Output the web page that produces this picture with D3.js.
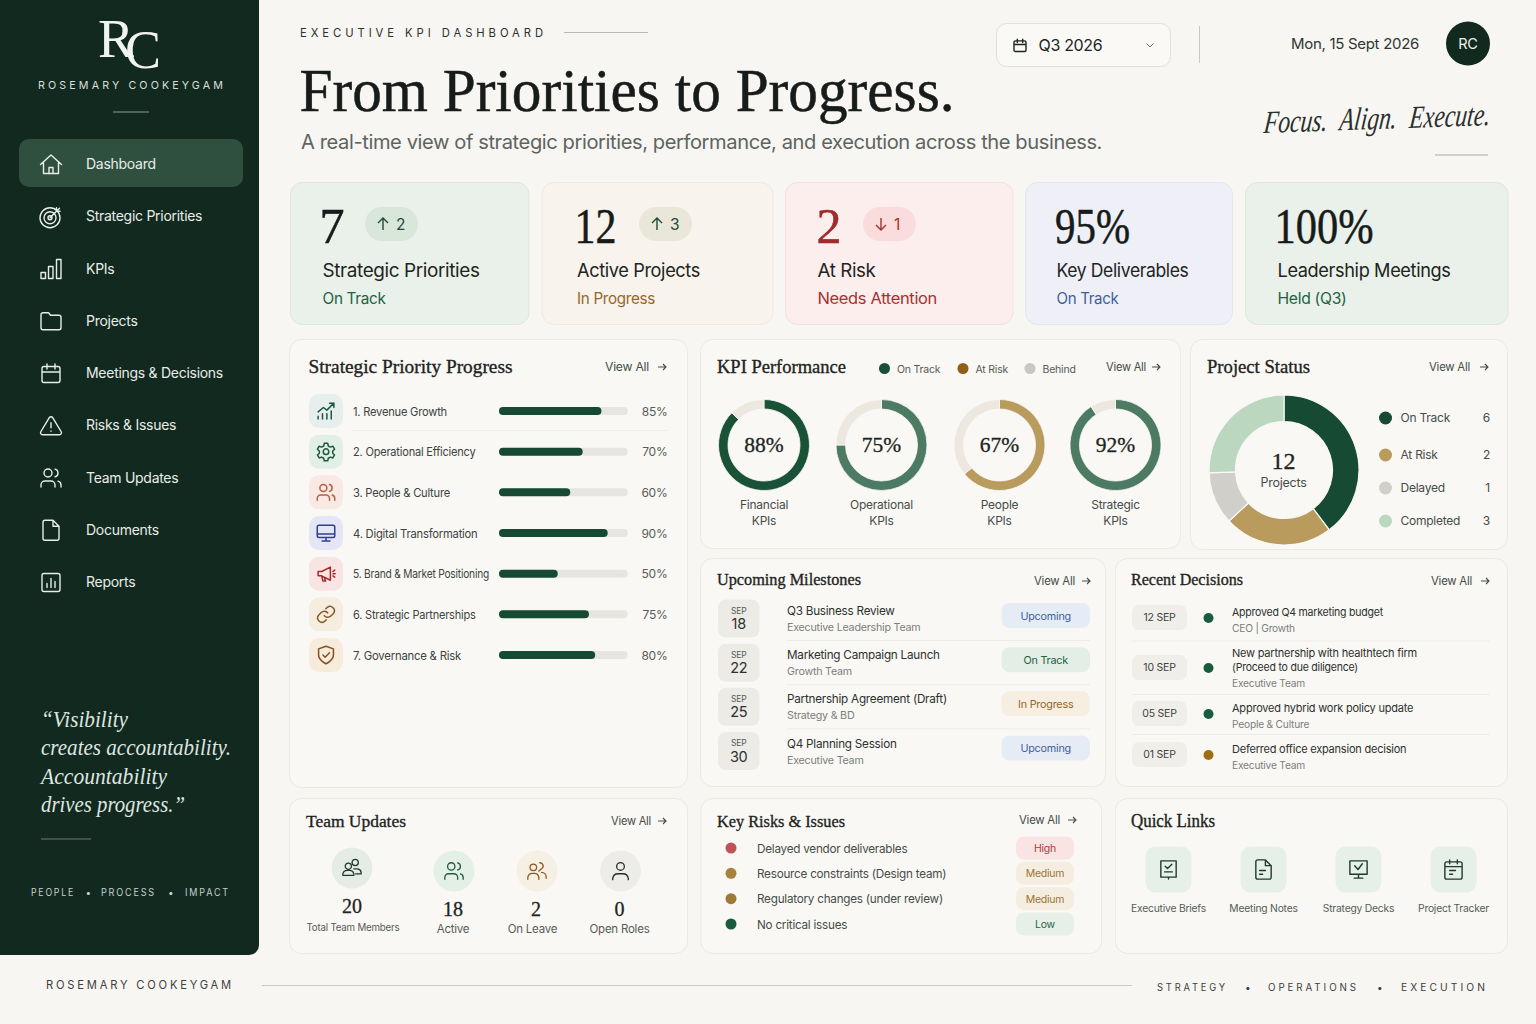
<!DOCTYPE html>
<html>
<head>
<meta charset="utf-8">
<title>Executive KPI Dashboard</title>
<script src="https://cdn.jsdelivr.net/npm/d3@7"></script>
<style>
html, body { margin: 0; padding: 0; background: #f8f6f2; }
svg { display: block; }
</style>
</head>
<body>
<div id="chart"></div>
<script>
// DATA
var navItems = ["Dashboard", "Strategic Priorities", "KPIs", "Projects", "Meetings & Decisions", "Risks & Issues", "Team Updates", "Documents", "Reports"];
var navIcons = ["home", "target", "bars", "folder", "calendar", "alert", "users", "file", "report"];
var quoteLines = ["\u201CVisibility", "creates accountability.", "Accountability", "drives progress.\u201D"];

var kpiValues = ["7", "12", "2", "95%", "100%"];
var kpiTitles = ["Strategic Priorities", "Active Projects", "At Risk", "Key Deliverables", "Leadership Meetings"];
var kpiStates = ["On Track", "In Progress", "Needs Attention", "On Track", "Held (Q3)"];
var kpiDeltas = [2, 3, -1, null, null];

var priorityNames = ["1. Revenue Growth", "2. Operational Efficiency", "3. People & Culture", "4. Digital Transformation", "5. Brand & Market Positioning", "6. Strategic Partnerships", "7. Governance & Risk"];
var priorityValues = [85, 70, 60, 90, 50, 75, 80];
var priorityIcons = ["growth", "gear", "users", "monitor", "megaphone", "link", "shield"];

var ringLabels = [88, 75, 67, 92];
var ringArcs = [87.5, 75, 64, 91]; // how much of each ring is actually painted
var ringNames = ["Financial", "Operational", "People", "Strategic"];
var kpiLegend = ["On Track", "At Risk", "Behind"];

var projectNames = ["On Track", "At Risk", "Delayed", "Completed"];
var projectCounts = [6, 2, 1, 3];
var projectShares = [39.7, 23.4, 11.3, 25.6]; // slice sizes as drawn, not the counts

var milestoneDays = ["18", "22", "25", "30"];
var milestoneTitles = ["Q3 Business Review", "Marketing Campaign Launch", "Partnership Agreement (Draft)", "Q4 Planning Session"];
var milestoneOwners = ["Executive Leadership Team", "Growth Team", "Strategy & BD", "Executive Team"];
var milestoneStates = ["Upcoming", "On Track", "In Progress", "Upcoming"];

var decisionDates = ["12 SEP", "10 SEP", "05 SEP", "01 SEP"];
var decisionTitles = [["Approved Q4 marketing budget"], ["New partnership with healthtech firm", "(Proceed to due diligence)"], ["Approved hybrid work policy update"], ["Deferred office expansion decision"]];
var decisionOwners = ["CEO | Growth", "Executive Team", "People & Culture", "Executive Team"];
var decisionStates = ["done", "done", "done", "deferred"];

var teamValues = [20, 18, 2, 0];
var teamNames = ["Total Team Members", "Active", "On Leave", "Open Roles"];

var riskNames = ["Delayed vendor deliverables", "Resource constraints (Design team)", "Regulatory changes (under review)", "No critical issues"];
var riskLevels = ["High", "Medium", "Medium", "Low"];

var quickNames = ["Executive Briefs", "Meeting Notes", "Strategy Decks", "Project Tracker"];
var quickIcons = ["brief", "note", "deck", "calendar2"];

// FONTS AND COLOURS
var SANS = "Inter, 'Noto Sans', sans-serif";
var SERIF = "'Liberation Serif', serif";
var INK = "#1d2421", BODY = "#3c4340", MUTED = "#7a807c", DARK = "#12291f", GREEN = "#164a33";

function ci(x, y, r) {
    return "M" + (x - r) + " " + y + "a" + r + " " + r + " 0 1 0 " + (2 * r) + " 0a" + r + " " + r + " 0 1 0 " + (-2 * r) + " 0";
}

// outline icons on a 24 x 24 grid
var icons = {
    home: "M1.5 12 L12 2.5 L22.5 12 M4.5 9.500 V21 H19.500 V9.500 M10 21 V15 H14 V21",
    target: ci(11, 13, 10) + ci(11, 13, 6) + ci(11, 13, 2) + "M11 13 L20.500 3.500 M17.500 3 V6.500 H21",
    bars: "M2 15.500h4.500v6H2z M9.500 9.500h4.500V21.500H9.500z M17.500 2.500h4.500v19h-4.500z",
    folder: "M4 20.5h16a2 2 0 0 0 2-2V8a2 2 0 0 0-2-2h-8.5l-2-2.5H4a2 2 0 0 0-2 2V18.5a2 2 0 0 0 2 2z",
    calendar: "M5 5h14a2 2 0 0 1 2 2v12a2 2 0 0 1-2 2H5a2 2 0 0 1-2-2V7a2 2 0 0 1 2-2z M16 2.5v5 M8 2.5v5 M3 10.5h18",
    alert: "M10.3 3.9 1.8 18a2 2 0 0 0 1.7 3h17a2 2 0 0 0 1.7-3L13.7 3.9a2 2 0 0 0-3.4 0z M12 9v5 M12 17.2v.4",
    users: "M16 21v-2a4 4 0 0 0-4-4H6a4 4 0 0 0-4 4v2" + ci(9, 7, 4) + "M22 21v-2a4 4 0 0 0-3-3.87 M16 3.13a4 4 0 0 1 0 7.75",
    file: "M14 2H6a2 2 0 0 0-2 2v16a2 2 0 0 0 2 2h12a2 2 0 0 0 2-2V8z M14 2v6h6",
    report: "M5 3h14a2 2 0 0 1 2 2v14a2 2 0 0 1-2 2H5a2 2 0 0 1-2-2V5a2 2 0 0 1 2-2z M8 17v-4 M12 17V8 M16 17v-6",
    growth: "M3 21v-3 M8 21v-6 M13 21v-6 M18 21v-9 M3 13l6-5 4 3 8-8 M16 3h5v5",
    gear: ci(12, 12, 3.2) + "M10 2.5h4l.6 3 2.4 1.3 2.8-1 2 3.4-2.2 2 .0 2.6 2.2 2-2 3.4-2.8-1-2.4 1.3-.6 3h-4l-.6-3-2.4-1.3-2.8 1-2-3.4 2.2-2v-2.6l-2.2-2 2-3.4 2.8 1 2.4-1.3z",
    monitor: "M4 3h16a2 2 0 0 1 2 2v10a2 2 0 0 1-2 2H4a2 2 0 0 1-2-2V5a2 2 0 0 1 2-2z M2 13h20 M12 17v4 M7.5 21h9",
    megaphone: "M3 9.5v5h4l10 5V4.5L7 9.5z M7 14.5l1.5 6h3L10 16 M20 9.5l2-1.5 M20 12h2.5 M20 14.5l2 1.5",
    link: "M10 13.5a5 5 0 0 0 7.5.5l3-3a5 5 0 0 0-7-7l-1.7 1.7 M14 10.5a5 5 0 0 0-7.5-.5l-3 3a5 5 0 0 0 7 7l1.7-1.7",
    shield: "M12 22s8.500-3.500 8.500-10.500V5L12 2 3.500 5v6.500C3.500 18.500 12 22 12 22z M8.500 12l2.500 2.500 5-5",
    people2: ci(8, 10, 3.4) + "M2 20v-1.500a5 5 0 0 1 5-4h2a5 5 0 0 1 5 4V20z" + ci(15.500, 6, 3.4) + "M14 13h4a4.500 4.500 0 0 1 4 4v1.500h-6",
    leave: ci(8, 8, 3.6) + "M2 21v-2a5 5 0 0 1 5-4.500h2a5 5 0 0 1 5 4.500v2 M15 3a3.500 3.500 0 0 1 2 6.500l-3 2.500 M17 13.500a5 5 0 0 1 5 5V20",
    person: ci(12, 7, 4.200) + "M3.500 21.500v-1.500a6 6 0 0 1 6-5h5a6 6 0 0 1 6 5v1.500",
    brief: "M4 3h16v17H4z M12 20v2 M8.500 8.500l2.500 2.500 4.500-4.500 M8 14.500h8",
    note: "M14 2H6a2 2 0 0 0-2 2v16a2 2 0 0 0 2 2h12a2 2 0 0 0 2-2V8z M14 2v6h6 M8 13h6 M8 17h3",
    deck: "M3 3h18v14H3z M12 17v4 M7.500 21h9 M8 8l3.500 4 4.500-6",
    calendar2: "M5 4h14a2 2 0 0 1 2 2v14a2 2 0 0 1-2 2H5a2 2 0 0 1-2-2V6a2 2 0 0 1 2-2z M8 2v4 M16 2v4 M3 9h18 M8 13h6 M8 17h3"
};

var svg = d3.select("#chart").append("svg")
    .attr("width", 1536)
    .attr("height", 1024)
    .attr("viewBox", "0 0 1536 1024");

svg.append("rect").attr("width", 1536).attr("height", 1024).attr("fill", "#f8f6f2");

// little helpers for the repeating bits
function txt(parent, x, y, str, size, fill, opts) {
    opts = opts || {};
    var font = opts.font || SANS;
    var t = parent.append("text")
        .attr("x", x)
        .attr("y", y)
        .attr("font-family", font)
        .attr("font-size", size)
        .attr("fill", fill)
        .attr("text-anchor", opts.anchor || "start")
        .text(str);
    // Inter runs wider than the picture's face, tighten it a bit
    if (opts.spacing !== undefined) t.attr("letter-spacing", opts.spacing);
    else if (font === SANS) t.attr("letter-spacing", "-0.02em");
    if (opts.italic) t.attr("font-style", "italic");
    if (opts.bold) t.attr("stroke", fill).attr("stroke-width", opts.bold);
    if (opts.width) t.attr("textLength", opts.width).attr("lengthAdjust", "spacingAndGlyphs");
    return t;
}

function box(parent, x0, y0, x1, y1, r, fill, stroke) {
    return parent.append("rect")
        .attr("x", x0).attr("y", y0)
        .attr("width", x1 - x0).attr("height", y1 - y0)
        .attr("rx", r)
        .attr("fill", fill)
        .attr("stroke", stroke || "none");
}

function icon(parent, name, cx, cy, size, color, sw) {
    var k = size / 24;
    parent.append("path")
        .attr("d", icons[name])
        .attr("transform", "translate(" + (cx - size / 2) + "," + (cy - size / 2) + ") scale(" + k + ")")
        .attr("fill", "none")
        .attr("stroke", color)
        .attr("stroke-width", (sw || 1.5) / k)
        .attr("stroke-linecap", "round")
        .attr("stroke-linejoin", "round");
}

function line(parent, x0, y0, x1, y1, color, w) {
    parent.append("line")
        .attr("x1", x0).attr("y1", y0)
        .attr("x2", x1).attr("y2", y1)
        .attr("stroke", color)
        .attr("stroke-width", w || 1);
}

function arrow(parent, x0, x1, y, color) {
    parent.append("path")
        .attr("d", "M" + x0 + " " + y + "H" + x1 + "M" + (x1 - 3) + " " + (y - 3) + "L" + x1 + " " + y + "L" + (x1 - 3) + " " + (y + 3))
        .attr("fill", "none")
        .attr("stroke", color)
        .attr("stroke-width", 1.1);
}

function panel(x0, y0, x1, y1, title, titleX, titleY, titleW, size, linkX, linkY, arrowGap, linkW) {
    var g = svg.append("g");
    box(g, x0 + 0.5, y0 + 0.5, x1 - 0.5, y1 - 0.5, 12, "#faf8f5", "#ece9e3");
    txt(g, titleX, titleY, title, size, INK, { font: SERIF, bold: 0.35, width: titleW });
    if (linkX) {
        txt(g, linkX, linkY + 4, "View All", 11.5, "#454c48", { width: linkW || 41 });
        arrow(g, linkX + arrowGap, linkX + arrowGap + 8, linkY, "#454c48");
    }
    return g;
}

// ---- SIDEBAR ----
var side = svg.append("g");
side.append("path")
    .attr("d", "M0 0H259V945a10 10 0 0 1-10 10H0z")
    .attr("fill", DARK);
var logo = txt(side, 98, 57, "R", 54, "#f1f3f0", { font: SERIF });
logo.append("tspan").attr("dx", -9).attr("dy", 11).text("C");
txt(side, 38, 89, "ROSEMARY COOKEYGAM", 11, "#d9dfda", { spacing: 3.2, width: 188 });
line(side, 113, 112, 149, 112, "#8d9c93", 1.2);

var navY = d3.scalePoint().domain(navItems).range([164, 582]);
box(side, 19, 139, 243, 187, 10, "#30503f");
side.selectAll("g.nav")
    .data(navItems)
    .enter()
    .append("g")
    .attr("class", "nav")
    .each(function (d, i) {
        var g = d3.select(this);
        icon(g, navIcons[i], 51, navY(d) + 0.5, 24, "#e8ede9", 1.4);
        txt(g, 86, navY(d) + 5, d, 14, "#e8ede9");
    });

var quoteY = d3.scalePoint().domain(quoteLines).range([727, 812]);
var quoteWidths = [87, 190, 126, 144];
quoteLines.forEach(function (q, i) {
    txt(side, 41, quoteY(q), q, 23.5, "#dfe5e0", { font: SERIF, italic: true, width: quoteWidths[i] });
});
line(side, 41, 839, 91, 839, "#6b7f73", 1);
txt(side, 31, 895.5, "PEOPLE", 10, "#c6d0c9", { spacing: 2, width: 44 });
txt(side, 85.5, 895.5, "\u2022", 10, "#c6d0c9");
txt(side, 101, 895.5, "PROCESS", 10, "#c6d0c9", { spacing: 2, width: 55 });
txt(side, 168, 895.5, "\u2022", 10, "#c6d0c9");
txt(side, 185, 895.5, "IMPACT", 10, "#c6d0c9", { spacing: 2, width: 45 });

// ---- FOOTER ----
var foot = svg.append("g");
txt(foot, 46, 989, "ROSEMARY COOKEYGAM", 12, "#3a413d", { spacing: 3, width: 188 });
line(foot, 262, 985.5, 1132, 985.5, "#cbc8c1", 1);
txt(foot, 1157, 991, "STRATEGY", 10, "#3a413d", { spacing: 3, width: 71 });
txt(foot, 1245, 991, "\u2022", 10, "#3a413d");
txt(foot, 1268, 991, "OPERATIONS", 10, "#3a413d", { spacing: 3, width: 91 });
txt(foot, 1377, 991, "\u2022", 10, "#3a413d");
txt(foot, 1401, 991, "EXECUTION", 10, "#3a413d", { spacing: 3, width: 87 });

// ---- HEADER ----
var head = svg.append("g");
txt(head, 300, 36.5, "EXECUTIVE KPI DASHBOARD", 12, "#2b312e", { spacing: 4.2, width: 247 });
line(head, 564, 32.5, 648, 32.5, "#bdbab3", 1);
txt(head, 299.5, 110.5, "From Priorities to Progress.", 62, "#171c1a", { font: SERIF, bold: 0.5, width: 655 });
txt(head, 301, 149, "A real-time view of strategic priorities, performance, and execution across the business.", 20, "#5d6460", { width: 801 });

box(head, 996.5, 23.5, 1170.5, 66.5, 10, "#faf9f6", "#e3e0da");
icon(head, "calendar", 1020, 45.5, 16, INK, 1.4);
txt(head, 1038.5, 51, "Q3 2026", 16, INK);
head.append("path").attr("d", "M1146.5 43.500l3.500 3.500 3.500-3.500").attr("fill", "none").attr("stroke", "#777").attr("stroke-width", 1);
line(head, 1199.5, 26, 1199.5, 63, "#c9c7c1", 1);
txt(head, 1291, 49, "Mon, 15 Sept 2026", 14.500, "#2f3633", { width: 128 });
head.append("circle").attr("cx", 1468).attr("cy", 43.5).attr("r", 22).attr("fill", DARK);
txt(head, 1468, 49, "RC", 14.500, "#eef1ee", { anchor: "middle" });
// no script face is installed, so a slanted and squeezed serif italic stands in for it
txt(head, 0, 0, "Focus. Align. Execute.", 32, "#2a2f2c", { font: SERIF, italic: true })
    .attr("word-spacing", 9)
    .attr("transform", "translate(1263,133) rotate(-2) skewX(-8) scale(0.74,1)");
line(head, 1435, 155, 1488, 155, "#a9aaa5", 1);

// ---- KPI CARDS ----
var cardEdges = [[290, 529.5], [541.5, 773.5], [785, 1013.5], [1025, 1233], [1245, 1508.5]];
var cardFills = ["#e9f1ea", "#f8f3ec", "#fdeeee", "#eff0f7", "#e9f1ea"];
var cardLines = ["#dde7de", "#efe9e0", "#f6dfdf", "#e4e5ef", "#dde7de"];
var pillFills = ["#d9e7db", "#e9e7da", "#fbdcdc"];
var valueInk = ["#171c1a", "#171c1a", "#a12a2a", "#171c1a", "#171c1a"];
var stateInk = ["#23623f", "#98662b", "#a8302f", "#3f5f9a", "#23623f"];
var cardText = [322.5, 577, 817.5, 1056.5, 1277.5];
var valueX = [319.5, 574.5, 816.5, 1055, 1274.5];
var valueWidths = [null, 42, null, 75, 99];
var titleWidths = [157, 123, 58, 132, 173];
var stateWidths = [63, 78, 119.5, 62, 69];

svg.selectAll("g.kpi")
    .data(kpiValues)
    .enter()
    .append("g")
    .attr("class", "kpi")
    .each(function (d, i) {
        var g = d3.select(this);
        var x0 = cardEdges[i][0], x1 = cardEdges[i][1];
        var tx = cardText[i];
        box(g, x0 + 0.5, 182.5, x1 - 0.5, 324.5, 12, cardFills[i], cardLines[i]);
        txt(g, valueX[i], 243, d, 50, valueInk[i], { font: SERIF, bold: 0.5, width: valueWidths[i] });
        txt(g, tx, 277, kpiTitles[i], 18.5, INK, { width: titleWidths[i] });
        txt(g, tx, 304, kpiStates[i], 15.5, stateInk[i], { width: stateWidths[i] });
        if (kpiDeltas[i] !== null) {
            var px = [365, 639, 863][i];
            var dark = i === 2 ? "#a8302f" : "#1f4a36";
            box(g, px, 207, px + 53, 241, 17, pillFills[i]);
            var ax = px + 18;
            var up = kpiDeltas[i] > 0;
            g.append("path")
                .attr("d", up ? "M" + ax + " 230V218M" + (ax - 5) + " 223L" + ax + " 218L" + (ax + 5) + " 223"
                              : "M" + ax + " 218V230M" + (ax - 5) + " 225L" + ax + " 230L" + (ax + 5) + " 225")
                .attr("fill", "none").attr("stroke", dark).attr("stroke-width", 1.4);
            txt(g, px + 31, 229.5, Math.abs(kpiDeltas[i]), 15.500, dark);
        }
    });

// ---- STRATEGIC PRIORITY PROGRESS ----
var prio = panel(289, 339, 688, 788, "Strategic Priority Progress", 308.5, 373, 204, 18.5, 605, 367, 53, 44);
var prioY = d3.scalePoint().domain(priorityNames).range([411, 655]);
// the painted bars run a little shorter than their labels say, so the domain is offset
var prioX = d3.scaleLinear().domain([3, 106]).range([499, 627.7]);
var prioTile = ["#e6efee", "#e2efe6", "#f8e9e4", "#e4e6f5", "#f9e4e4", "#f5ede0", "#f7ebdc"];
var prioIcon = ["#1c5a40", "#1c5a40", "#b5613f", "#2f3f8f", "#a82b2b", "#8a5a22", "#8a4f1c"];
var prioWidths = [94, 122.5, 97, 124.5, 136, 122.5, 108];

line(prio, 353, 430.5, 668, 430.5, "#f0eee9", 1);
prio.selectAll("g.row")
    .data(priorityNames)
    .enter()
    .append("g")
    .attr("class", "row")
    .each(function (d, i) {
        var g = d3.select(this), y = prioY(d);
        box(g, 309, y - 17, 343, y + 17, 10, prioTile[i]);
        icon(g, priorityIcons[i], 326, y, 21, prioIcon[i], 1.5);
        txt(g, 353, y + 4.5, d, 12, BODY, { width: prioWidths[i] });
        txt(g, 667.5, y + 4.5, priorityValues[i] + "%", 12, "#565c58", { anchor: "end" });
    });
prio.selectAll("rect.track")
    .data(priorityNames)
    .enter()
    .append("rect")
    .attr("class", "track")
    .attr("x", prioX.range()[0])
    .attr("y", function (d) { return prioY(d) - 4; })
    .attr("width", prioX.range()[1] - prioX.range()[0])
    .attr("height", 8)
    .attr("rx", 4)
    .attr("fill", "#e7e5e0");
prio.selectAll("rect.fill")
    .data(priorityValues)
    .enter()
    .append("rect")
    .attr("class", "fill")
    .attr("x", prioX.range()[0])
    .attr("y", function (d, i) { return prioY(priorityNames[i]) - 4; })
    .attr("width", function (d) { return prioX(d) - prioX.range()[0]; })
    .attr("height", 8)
    .attr("rx", 4)
    .attr("fill", GREEN);

// ---- KPI PERFORMANCE RINGS ----
var perf = panel(700, 339, 1181, 549, "KPI Performance", 717, 373, 129, 18.5, 1106, 367, 46, 40);
var legendDots = ["#1a4f38", "#8f5e17", "#c9c7c2"];
var legendX = d3.scaleOrdinal().domain(kpiLegend).range([884.5, 963, 1030]);
kpiLegend.forEach(function (name, i) {
    perf.append("circle").attr("cx", legendX(name)).attr("cy", 368.5).attr("r", 5.5).attr("fill", legendDots[i]);
    txt(perf, legendX(name) + 12.5, 372.5, name, 10.5, "#555b57");
});

var ringX = d3.scaleOrdinal().domain(ringNames).range([764, 881.5, 999.5, 1115.5]);
var ringInk = ["#1a5237", "#4d7a63", "#b99b5e", "#4d7a63"];
var ringArc = d3.arc().innerRadius(36).outerRadius(45.5);
var ringPie = d3.pie().sort(null).value(function (d) { return d; });

ringNames.forEach(function (name, i) {
    var g = perf.append("g").attr("transform", "translate(" + ringX(name) + ",445)");
    g.selectAll("path")
        .data(ringPie([ringArcs[i], 100 - ringArcs[i]]))
        .enter()
        .append("path")
        .attr("d", ringArc)
        .attr("fill", function (d, j) { return j === 0 ? ringInk[i] : "#ece8df"; })
        .attr("stroke", "#faf8f5")
        .attr("stroke-width", 0.8);
    txt(g, 0, 7, ringLabels[i] + "%", 21.5, INK, { font: SERIF, bold: 0.3, anchor: "middle" });
    txt(g, 0, 63.5, name, 12, "#454c48", { anchor: "middle" });
    txt(g, 0, 79.5, "KPIs", 12, "#454c48", { anchor: "middle" });
});

// ---- PROJECT STATUS ----
var proj = panel(1190, 339, 1508, 550, "Project Status", 1207, 373, 103, 18.5, 1429, 367, 51);
var projInk = ["#164a33", "#b99b5e", "#d1cfca", "#bcd7bf"];
var projArc = d3.arc().innerRadius(48.5).outerRadius(75);
var projPie = d3.pie().sort(null);
var projG = proj.append("g").attr("transform", "translate(1284,470)");
projG.selectAll("path")
    .data(projPie(projectShares))
    .enter()
    .append("path")
    .attr("d", projArc)
    .attr("fill", function (d, i) { return projInk[i]; })
    .attr("stroke", "#faf8f5")
    .attr("stroke-width", 1.2);
txt(projG, -0.5, -1, "12", 24, INK, { font: SERIF, bold: 0.3, anchor: "middle" });
txt(projG, -0.5, 16.5, "Projects", 12.5, "#454c48", { anchor: "middle" });

var projY = d3.scaleOrdinal().domain(projectNames).range([418, 455, 488, 521]);
projectNames.forEach(function (name, i) {
    proj.append("circle").attr("cx", 1385.5).attr("cy", projY(name)).attr("r", 6.5).attr("fill", projInk[i]);
    txt(proj, 1400.5, projY(name) + 4, name, 12, "#454c48");
    txt(proj, 1490, projY(name) + 4, projectCounts[i], 12, "#454c48", { anchor: "end" });
});

// ---- UPCOMING MILESTONES ----
var mile = panel(700, 558, 1106, 787, "Upcoming Milestones", 717, 585, 144, 17.5, 1034, 581, 48);
var mileY = d3.scalePoint().domain(milestoneTitles).range([618.5, 751]);
var stateFill = { "Upcoming": "#e6ecf6", "On Track": "#e3efe6", "In Progress": "#f6eee0" };
var stateText = { "Upcoming": "#3f5f9a", "On Track": "#23623f", "In Progress": "#98662b" };
mile.selectAll("g.row")
    .data(milestoneTitles)
    .enter()
    .append("g")
    .attr("class", "row")
    .each(function (d, i) {
        var g = d3.select(this), y = mileY(d), st = milestoneStates[i];
        box(g, 718, y - 19, 759.5, y + 19, 8, "#edebe6");
        txt(g, 738.7, y - 5, "SEP", 8.5, "#555b57", { anchor: "middle" });
        txt(g, 738.7, y + 10.5, milestoneDays[i], 14.500, "#2b312e", { anchor: "middle" });
        txt(g, 787, y - 3.5, d, 11.7, "#2b312e");
        txt(g, 787, y + 12.5, milestoneOwners[i], 10.7, MUTED);
        box(g, 1001.5, y - 15.5, 1090, y + 9.5, 8, stateFill[st]);
        txt(g, 1045.7, y + 1, st, 10.8, stateText[st], { anchor: "middle" });
        if (i < 3) line(g, 787, y + 22, 1090, y + 22, "#eeece7", 1);
    });

// ---- RECENT DECISIONS ----
var deci = panel(1115, 558, 1508, 787, "Recent Decisions", 1131, 585, 112, 17.5, 1431, 581, 50);
var decisionDot = { done: "#195c3d", deferred: "#a06c14" };
var deciRules = [641, 694.5, 734.5];
var deciWidths = { "Approved Q4 marketing budget": 151, "(Proceed to due diligence)": 126 };
var deciY = 611.5;
decisionTitles.forEach(function (lines, i) {
    var g = deci.append("g");
    var mid = deciY + 6 + (lines.length - 1) * 9;
    box(g, 1132, mid - 12.5, 1187, mid + 12.5, 7, "#f0eee9");
    txt(g, 1159.5, mid + 3.5, decisionDates[i], 10.5, "#3c4340", { anchor: "middle" });
    g.append("circle").attr("cx", 1208.5).attr("cy", mid + 0.5).attr("r", 5).attr("fill", decisionDot[decisionStates[i]]);
    lines.forEach(function (t, j) {
        txt(g, 1232, deciY + 4 + j * 14.5, t, 11, "#2b312e", { width: deciWidths[t] });
    });
    txt(g, 1232, deciY + 20 + (lines.length - 1) * 14.5, decisionOwners[i], 10.2, MUTED);
    if (i < 3) line(g, 1132, deciRules[i], 1490, deciRules[i], "#eeece7", 1);
    deciY = deciY + 13 + (lines.length + 1) * 14;
});

// ---- TEAM UPDATES ----
var team = panel(289, 798, 688, 954, "Team Updates", 306, 827, 100, 17.5, 611, 821, 47, 40);
var teamX = d3.scaleOrdinal().domain(teamNames).range([352, 454, 537, 620.5]);
var teamLabelX = [353, 453, 532.5, 619.5];
var teamFill = ["#e5ece6", "#e4efe6", "#f5efe4", "#eeece9"];
var teamInk = ["#1f3a2d", "#1f5a3d", "#8a5a22", "#1f2e27"];
var teamIcon = ["people2", "users", "leave", "person"];
teamNames.forEach(function (name, i) {
    var x = teamX(name), lift = i === 0 ? 3 : 0;
    team.append("circle").attr("cx", x).attr("cy", 871 - lift).attr("r", 20.5).attr("fill", teamFill[i]);
    icon(team, teamIcon[i], x, 871 - lift, 22, teamInk[i], 1.3);
    txt(team, x + (i === 0 ? 0 : -1), 916 - lift, teamValues[i], 20, INK, { font: SERIF, bold: 0.3, anchor: "middle" });
    txt(team, teamLabelX[i], 933 - (i === 0 ? 2 : 0), name, i === 0 ? 10 : 11.5, "#565c58", { anchor: "middle", width: i === 0 ? 93 : null });
});

// ---- KEY RISKS & ISSUES ----
var risk = panel(700.5, 798, 1102, 954, "Key Risks & Issues", 717, 826.5, 128, 17.5, 1019, 820, 49);
var riskY = d3.scalePoint().domain(riskNames).range([848, 924]);
var riskDots = ["#bf5358", "#a8813e", "#9e7a37", "#195c3d"];
var riskFill = { High: "#fae3e3", Medium: "#f5eee0", Low: "#e6f0e8" };
var riskInk = { High: "#b03a3a", Medium: "#9a7535", Low: "#2d5e45" };
riskNames.forEach(function (name, i) {
    var y = riskY(name), lv = riskLevels[i];
    risk.append("circle").attr("cx", 731).attr("cy", y).attr("r", 5.5).attr("fill", riskDots[i]);
    txt(risk, 757, y + 4.5, name, 11.7, "#454c48");
    box(risk, 1016, y - 11.5, 1074, y + 11.5, 8, riskFill[lv]);
    txt(risk, 1045, y + 4, lv, 10.5, riskInk[lv], { anchor: "middle" });
});

// ---- QUICK LINKS ----
var quick = panel(1115, 798, 1508, 954, "Quick Links", 1131, 827, 84, 18);
var quickX = d3.scalePoint().domain(quickNames).range([1168.5, 1453.5]);
quickNames.forEach(function (name, i) {
    var x = quickX(name);
    box(quick, x - 23, 846.5, x + 23, 892.5, 10, "#e7efe9");
    icon(quick, quickIcons[i], x, 869.5, 23, "#1f3a2d", 1.4);
    txt(quick, x, 911.5, name, 10.3, "#565c58", { anchor: "middle" });
});
</script>
</body>
</html>
